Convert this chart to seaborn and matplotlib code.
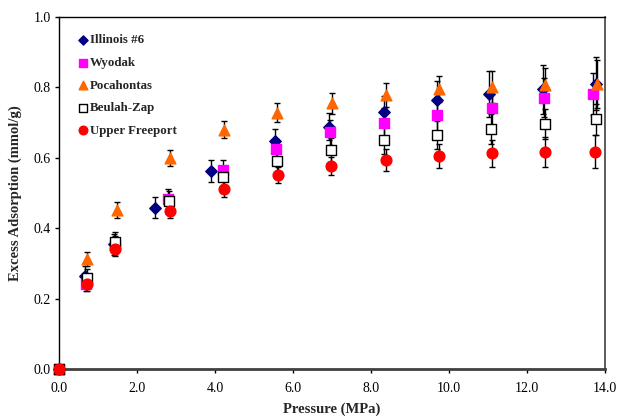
import matplotlib
matplotlib.use("Agg")
import matplotlib.pyplot as plt
import seaborn as sns
import pandas as pd

# ---- data ----
names = ["Illinois #6", "Wyodak", "Pocahontas", "Beulah-Zap", "Upper Freeport"]

p_illinois = [0.0, 0.67, 1.42, 2.46, 3.91, 5.55, 6.93, 8.32, 9.68, 11.03, 12.42, 13.77]
a_illinois = [0.0, 0.264, 0.355, 0.458, 0.563, 0.647, 0.688, 0.731, 0.764, 0.781, 0.794, 0.810]
e_illinois = [0.0, 0.030, 0.030, 0.030, 0.031, 0.034, 0.038, 0.045, 0.055, 0.065, 0.070, 0.075]

p_wyodak = [0.0, 0.70, 1.43, 2.80, 4.20, 5.56, 6.95, 8.33, 9.69, 11.10, 12.44, 13.70]
a_wyodak = [0.0, 0.242, 0.352, 0.482, 0.565, 0.624, 0.672, 0.700, 0.720, 0.740, 0.770, 0.781]
e_wyodak = [0.0, 0.020, 0.025, 0.028, 0.030, 0.030, 0.035, 0.040, 0.045, 0.050, 0.055, 0.060]

p_pocahontas = [0.0, 0.71, 1.48, 2.85, 4.23, 5.60, 7.00, 8.38, 9.73, 11.10, 12.47, 13.78]
a_pocahontas = [0.0, 0.312, 0.452, 0.600, 0.679, 0.728, 0.755, 0.778, 0.795, 0.800, 0.807, 0.810]
e_pocahontas = [0.0, 0.020, 0.022, 0.022, 0.024, 0.027, 0.030, 0.035, 0.037, 0.045, 0.049, 0.068]

p_beulah = [0.0, 0.73, 1.45, 2.83, 4.21, 5.59, 6.97, 8.32, 9.70, 11.08, 12.46, 13.76]
a_beulah = [0.0, 0.258, 0.360, 0.476, 0.544, 0.590, 0.621, 0.650, 0.664, 0.682, 0.695, 0.709]
e_beulah = [0.0, 0.025, 0.030, 0.030, 0.030, 0.032, 0.035, 0.038, 0.040, 0.042, 0.043, 0.044]

p_freeport = [0.0, 0.73, 1.45, 2.85, 4.23, 5.62, 6.97, 8.38, 9.74, 11.10, 12.46, 13.75]
a_freeport = [0.0, 0.241, 0.340, 0.449, 0.512, 0.550, 0.577, 0.594, 0.604, 0.613, 0.616, 0.617]
e_freeport = [0.0, 0.020, 0.020, 0.020, 0.022, 0.023, 0.026, 0.031, 0.034, 0.038, 0.043, 0.047]

x_ticks = [0.0, 2.0, 4.0, 6.0, 8.0, 10.0, 12.0, 14.0]
y_ticks = [0.0, 0.2, 0.4, 0.6, 0.8, 1.0]

series = [
    (names[0], p_illinois, a_illinois, e_illinois),
    (names[1], p_wyodak, a_wyodak, e_wyodak),
    (names[2], p_pocahontas, a_pocahontas, e_pocahontas),
    (names[3], p_beulah, a_beulah, e_beulah),
    (names[4], p_freeport, a_freeport, e_freeport),
]

styles = {
    "Illinois #6": dict(marker="D", color="#000080", edge="#000080", s=34),
    "Wyodak": dict(marker="s", color="#FF00FF", edge="#FF00FF", s=50),
    "Pocahontas": dict(marker="^", color="#FF6600", edge="#FF6600", s=60),
    "Beulah-Zap": dict(marker="s", color="white", edge="black", s=50),
    "Upper Freeport": dict(marker="o", color="#FF0000", edge="#FF0000", s=60),
}

sns.set_theme(style="white")
plt.rcParams["font.family"] = ["Liberation Serif", "DejaVu Serif"]

fig = plt.figure(figsize=(6.2, 4.2), dpi=100)
ax = fig.add_axes([0.095, 0.121, 0.881, 0.839])

rows = []
for name, p, a, e in series:
    for pi, ai, ei in zip(p, a, e):
        rows.append(dict(coal=name, P=pi, A=ai, E=ei))
df = pd.DataFrame(rows)

# error bars first (below markers)
for name, p, a, e in series:
    ax.errorbar(p, a, yerr=e, fmt="none", ecolor="black", elinewidth=1.0,
                capsize=2.5, capthick=1.0, zorder=2)

for name, p, a, e in series:
    st = styles[name]
    sub = df[df["coal"] == name]
    sns.scatterplot(data=sub, x="P", y="A", ax=ax, marker=st["marker"],
                    color=st["color"], edgecolor=st["edge"], linewidth=1.0,
                    s=st["s"], label=name, zorder=3, clip_on=False)

ax.set_xlim(0, 14)
ax.set_ylim(0, 1.0)
ax.set_xticks(x_ticks)
ax.set_yticks(y_ticks)
ax.set_xticklabels([f"{v:.1f}" for v in x_ticks])
ax.set_yticklabels([f"{v:.1f}" for v in y_ticks])
ax.tick_params(axis="both", direction="out", length=3, width=1, labelsize=10,
               colors="black", pad=3, bottom=True, left=True)
ax.tick_params(axis="x", pad=6)

for side in ["top", "left"]:
    ax.spines[side].set_color("black")
    ax.spines[side].set_linewidth(1.0)
ax.spines["bottom"].set_color("#404040")
ax.spines["bottom"].set_linewidth(2.0)
ax.spines["right"].set_color("#404040")
ax.spines["right"].set_linewidth(1.2)

ax.set_xlabel("Pressure (MPa)", fontsize=10.5, fontweight="bold", labelpad=6)
ax.set_ylabel("Excess Adsorption (mmol/g)", fontsize=10.5, fontweight="bold", labelpad=8)

leg = ax.legend(loc="upper left", bbox_to_anchor=(0.022, 0.965), frameon=False,
                prop=dict(family="Liberation Serif", weight="bold", size=9.3),
                handlelength=1.0, handletextpad=0.1, labelspacing=0.82,
                borderaxespad=0.0, markerscale=0.8)

fig.savefig("out.png", dpi=100)
